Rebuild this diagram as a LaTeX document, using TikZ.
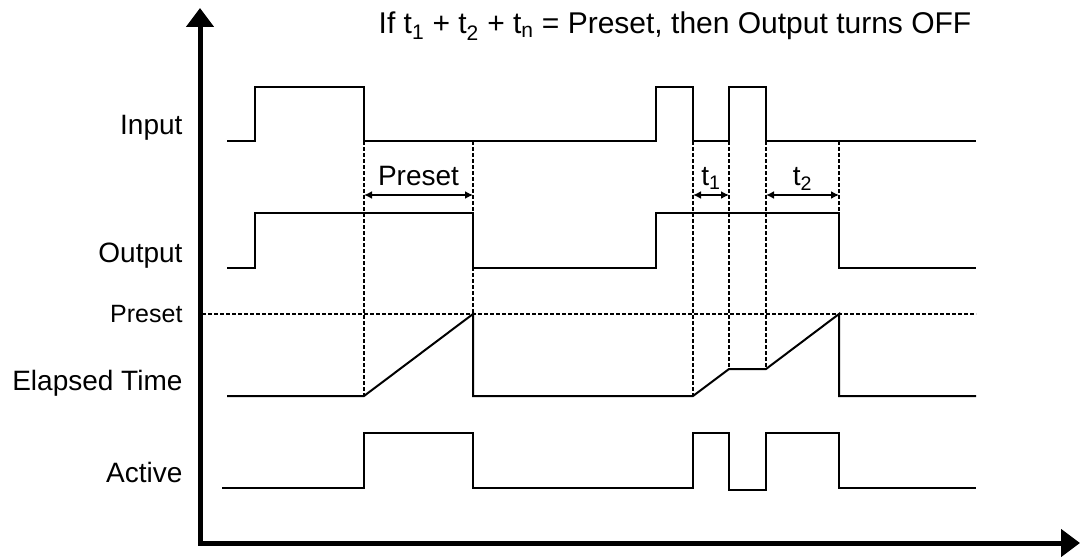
\documentclass[tikz,border=0pt]{standalone}
\usepackage{fontspec}
\setmainfont{Liberation Sans}
\usetikzlibrary{arrows.meta, positioning, calc}
\tikzset{>=latex}

\begin{document}
\begin{tikzpicture}[x=1pt, y=-1pt,
    wave/.style={line width=2pt},
    guide/.style={line width=1.4pt, dash pattern=on 3.5pt off 2.5pt},
    axis/.style={line width=5pt, {Triangle[width=27pt, length=19pt]}-{Triangle[width=27pt, length=19pt]}},
    span/.style={line width=2pt, {Latex[length=8pt, width=8pt]}-{Latex[length=8pt, width=8pt]}},
    lbl/.style={anchor=base east, font=\fontsize{28}{30}\selectfont},
    lift/.style={anchor=base, yshift=10pt, font=\fontsize{28}{30}\selectfont}]
  \useasboundingbox (0,0) rectangle (1081,559); %
  % labels on the left
  \node[lbl] (input) at (186,135) {Input}; %
  \node[lbl] (output) at (186,262) {Output}; %
  \node[lbl, font=\fontsize{25}{27}\selectfont] (preset) at (186,322) {Preset}; %
  \node[lbl] (elapsed) at (186,390) {Elapsed Time}; %
  \node[lbl] (active) at (186,482) {Active}; %
  \node[anchor=base, font=\fontsize{30}{32}\selectfont] (title) at (675,34)
    {If t\textsubscript{1} + t\textsubscript{2} + t\textsubscript{n} = Preset, then Output turns OFF}; %
  % guide lines
  \draw[guide] (202,314) -- (976,314); %
  \draw[guide] (364,141) -- (364,396); %
  \draw[guide] (473,141) -- (473,314); %
  \draw[guide] (693,141) -- (693,396); %
  \draw[guide] (729,141) -- (729,369); %
  \draw[guide] (766,141) -- (766,369); %
  \draw[guide] (839,141) -- (839,213); %
  % signals
  \draw[wave] (227,141) -| (255,87) -| (364,141) -| (656,87) -| (693,141) -| (729,87) -| (766,141) -- (976,141); %
  \draw[wave] (227,268) -| (255,213) -| (473,268) -| (656,213) -| (839,268) -- (976,268); %
  \draw[wave] (227,396) -- (364,396) -- (473,314) -- (473,396) -- (693,396) -- (729,369) -- (766,369)
    -- (839,314) -- (839,396) -- (976,396); %
  \draw[wave] (222,488) -| (364,433) -| (473,488) -| (693,433) -| (729,489.5) -| (766,433) -| (839,488) -- (976,488); %
  % time spans
  \coordinate (p0) at (364,195); \coordinate (p1) at (473,195); %
  \coordinate (a0) at (693,195); \coordinate (a1) at (729,195); %
  \coordinate (b0) at (766,195); \coordinate (b1) at (839,195); %
  \draw[span] (p0) -- node[lift]{Preset} (p1); %
  \draw[span] (a0) -- node[lift]{t\textsubscript{1}} (a1); %
  \draw[span] (b0) -- node[lift]{t\textsubscript{2}} (b1); %
  % axes
  \draw[axis] (200,8) -- (200,543) -- (1080,543); %
\end{tikzpicture}
\end{document}
